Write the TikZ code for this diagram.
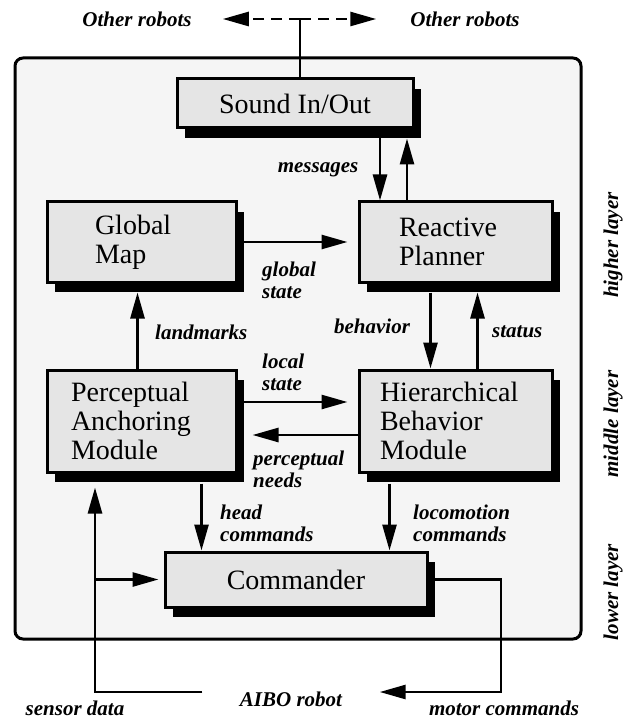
\documentclass[tikz,border=0pt]{standalone}
\usepackage{fontspec}
\setmainfont{Liberation Serif}
\usetikzlibrary{arrows.meta,shadows}
\definecolor{boxgray}{gray}{0.9}
\definecolor{framegray}{gray}{0.96}

\begin{document}
\begin{tikzpicture}[x=1pt,y=-1pt,
	module/.style={draw, line width=3pt, fill=boxgray, inner sep=0pt,
		font=\fontsize{28}{29}\selectfont,
		drop shadow={shadow xshift=8pt, shadow yshift=-10pt, fill=black, opacity=1}},
	lbl/.style={font=\fontsize{21}{22}\selectfont\bfseries\itshape, align=left, inner sep=0pt},
	arr/.style={line width=2.7pt, -{Triangle[length=26pt,width=14pt]}}]
	\useasboundingbox (0,0) rectangle (623,719);
	% frame of the robot
	\draw[rounded corners=8pt, line width=3pt, fill=framegray] (15,58) rectangle (581,639);

	% modules
	\node[module, minimum width=236pt, minimum height=49pt] (sound) at (295,103.5) {Sound In/Out};
	\node[module, minimum width=189pt, minimum height=80pt, text width=93pt, align=left] (gmap) at (141.5,242) {Global\\Map};
	\node[module, minimum width=193pt, minimum height=80pt, text width=113pt, align=left] (planner) at (455.5,242) {Reactive\\Planner};
	\node[module, minimum width=189pt, minimum height=102pt, text width=141pt, align=left] (anchor) at (141.5,421) {Perceptual\\Anchoring\\Module};
	\node[module, minimum width=193pt, minimum height=102pt, text width=151pt, align=left] (hbm) at (455.5,421) {Hierarchical\\Behavior\\Module};
	\node[module, minimum width=262pt, minimum height=55pt] (cmdr) at (296,579.5) {Commander};

	% outside world
	\node[lbl] (otherl) at (137,19) {Other robots};
	\node[lbl] (otherr) at (465,19) {Other robots};
	\coordinate (net) at (300,19);
	\draw[arr, dash pattern=on 11pt off 7pt, shorten >=31pt] (net) -- (otherl.east);
	\draw[arr, dash pattern=on 11pt off 7pt, shorten >=34pt] (net) -- (otherr.west);
	\draw[line width=2.7pt] (net) -- (net |- sound.north);

	% higher layer
	\coordinate (msgdown) at ([xshift=85pt,yshift=-9pt]sound.south);
	\coordinate (msgup) at ([xshift=112pt,yshift=-9pt]sound.south);
	\draw[arr] (msgdown) -- (msgdown |- planner.north);
	\draw[arr] (msgup |- planner.north) -- (msgup);
	\node[lbl] (messages) at (318,170) {messages};
	\draw[arr, shorten >=10pt] (gmap.east) -- (planner.west);
	\node[lbl, anchor=west] (gstate) at (262,280) {global\\state};

	% middle layer
	\coordinate (lmk) at ([xshift=-4pt,yshift=-9pt]gmap.south);
	\draw[arr] (lmk |- anchor.north) -- (lmk);
	\node[lbl, anchor=west] (landmarks) at (155,332) {landmarks};
	\coordinate (beh) at ([xshift=-25pt,yshift=-9pt]planner.south);
	\coordinate (stat) at ([xshift=22pt,yshift=-9pt]planner.south);
	\draw[arr] (beh) -- (beh |- hbm.north);
	\draw[arr] (stat |- hbm.north) -- (stat);
	\node[lbl] (behavior) at (372,326) {behavior};
	\node[lbl, anchor=west] (status) at (492,332) {status};
	\draw[arr, shorten >=10pt] ([yshift=19pt]anchor.east) -- ([yshift=19pt]hbm.west);
	\node[lbl, anchor=west] (lstate) at (262,372) {local\\state};
	\draw[arr, shorten >=15pt] ([yshift=-14pt]hbm.west) -- ([yshift=-14pt]anchor.east);
	\node[lbl, anchor=west] (pneeds) at (253,469) {perceptual\\needs};

	% lower layer
	\coordinate (head) at ([xshift=60pt,yshift=-10pt]anchor.south);
	\coordinate (loco) at ([xshift=-66pt,yshift=-10pt]hbm.south);
	\draw[arr] (head) -- (head |- cmdr.north);
	\draw[arr] (loco) -- (loco |- cmdr.north);
	\node[lbl, anchor=west] (headcmd) at (220,523) {head\\commands};
	\node[lbl, anchor=west] (lococmd) at (413,523) {locomotion\\commands};

	% robot loop
	\node[lbl, minimum width=177pt] (aibo) at (291,699) {AIBO robot};
	\node[lbl] (sdata) at (75,708) {sensor data};
	\node[lbl] (mcmd) at (504,708) {motor commands};
	\coordinate (sensor) at (95,692);
	\coordinate (motor) at (501,692);
	\coordinate (anchorfoot) at ([yshift=-14pt]anchor.south);
	\draw[arr] ([yshift=7pt]aibo.west) -- (sensor) -- (anchorfoot -| sensor);
	\draw[arr, shorten >=5pt] (sensor |- cmdr.west) -- (cmdr.west);
	\draw[arr] (cmdr.east) -| (motor) -- ([yshift=7pt]aibo.east);

	% layers
	\node[lbl, rotate=90] (higher) at (613,245) {higher layer};
	\node[lbl, rotate=90] (middle) at (613,424) {middle layer};
	\node[lbl, rotate=90] (lower) at (613,592) {lower layer};
\end{tikzpicture}
\end{document}
